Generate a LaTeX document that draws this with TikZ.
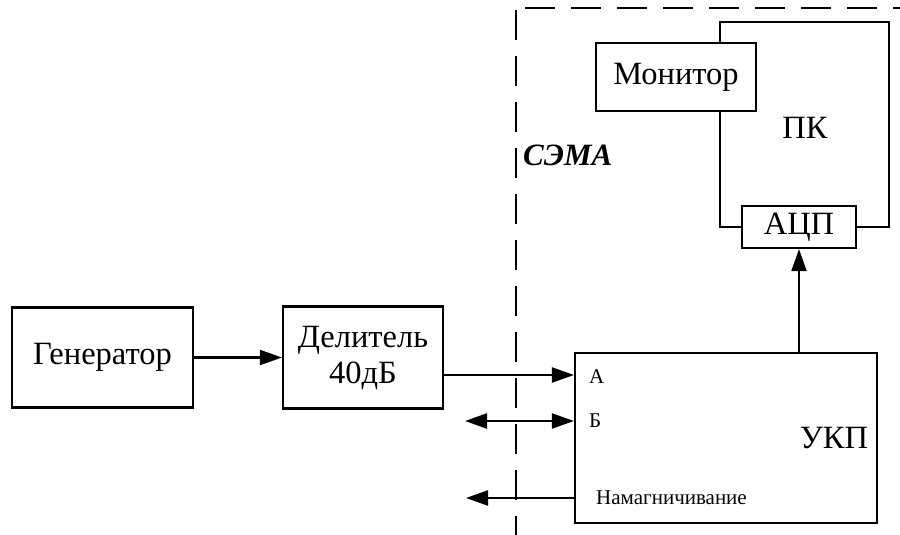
\documentclass[tikz,border=0pt]{standalone}
\usepackage{fontspec}
\setmainfont{Liberation Serif}
\usetikzlibrary{arrows.meta}
\begin{document}
\begin{tikzpicture}[x=1pt,y=-1pt,
  big/.style={font=\fontsize{32.5}{36}\selectfont},
  blk/.style={draw,line width=2.2pt,inner sep=0pt,big,align=center},
  conn/.style={line width=2.2pt},
  arr/.style={conn,-{Triangle[length=22pt,width=15pt]}},
  darr/.style={conn,{Triangle[length=22pt,width=15pt]}-{Triangle[length=22pt,width=15pt]}},
  bound/.style={line width=1.6pt,dash pattern=on 30pt off 16pt},
  small/.style={font=\fontsize{21}{23}\selectfont,inner sep=0pt,anchor=west}]
\useasboundingbox (0,0) rectangle (900,535);
\node[blk,minimum width=181pt,minimum height=100pt] (gen) at (102.5,357.5) {Генератор};
\node[blk,minimum width=160pt,minimum height=102pt] (del) at (363,357.5) {Делитель\\40дБ};
\node[blk,minimum width=302pt,minimum height=170pt] (ukp) at (726,438) {};
\node[blk,minimum width=114pt,minimum height=42pt] (adc) at (799,227) {АЦП};
\node[blk,minimum width=160pt,minimum height=68pt] (mon) at (676,77) {Монитор};
\node[big,inner sep=0pt] (ukpl) at (834,438) {УКП};
\node[big,inner sep=0pt] (pcl) at (805,128) {ПК};
\node[font=\fontsize{31}{34}\selectfont\bfseries\itshape,inner sep=0pt,anchor=west] (sema) at (523,155) {СЭМА};
\node[small] (la) at (589,377) {А};
\node[small] (lb) at (589,421) {Б};
\node[small] (ln) at (596,498) {Намагничивание};
\coordinate (pcL) at (720,0);
\coordinate (pcR) at (889,0);
\coordinate (pcT) at (0,22);
\coordinate (aY) at (0,375);
\coordinate (bL) at (465,421);
\coordinate (nL) at (466,498);
\coordinate (dTop) at (516,10);
\coordinate (dBot) at (516,535);
\coordinate (hL) at (525,8);
\coordinate (hR) at (902,8);
% boundary
\draw[bound] (dTop) -- (dBot);
\draw[bound] (hL) -- (hR);
% PC outline
\draw[conn] (mon.north -| pcL) -- (pcL |- pcT) -- (pcR |- pcT) -- (pcR |- adc.east) -- (adc.east);
\draw[conn] (mon.south -| pcL) -- (pcL |- adc.west) -- (adc.west);
% connectors
\draw[arr] (gen.east) -- (del.west);
\draw[arr] (del.east |- aY) -- (ukp.west |- aY);
\draw[darr] (bL) -- (ukp.west |- bL);
\draw[arr] (ukp.west |- nL) -- (nL);
\draw[arr] (ukp.north -| adc) -- (adc.south);
\end{tikzpicture}
\end{document}
